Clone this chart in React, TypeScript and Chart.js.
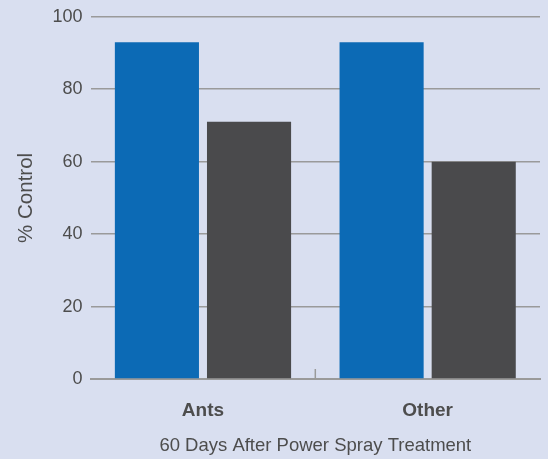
import React, { useEffect, useRef } from "react";
import { Chart, registerables } from "chart.js";

Chart.register(...registerables);

const categories = ["Ants", "Other"];
const seriesA = [93, 93];
const seriesB = [71, 60];
const yTicks = [0, 20, 40, 60, 80, 100];

const midTick = {
  id: "midTick",
  afterDatasetsDraw(chart: any) {
    const x = chart.scales.x;
    const ctx = chart.ctx;
    const px = (x.getPixelForTick(0) + x.getPixelForTick(1)) / 2;
    const b = chart.chartArea.bottom;
    ctx.save();
    ctx.strokeStyle = "#9a9a9a";
    ctx.lineWidth = 1.5;
    ctx.beginPath();
    ctx.moveTo(px, b - 10);
    ctx.lineTo(px, b);
    ctx.stroke();
    ctx.restore();
  },
};

export default function App() {
  const ref = useRef<HTMLCanvasElement>(null);
  useEffect(() => {
    document.body.style.margin = "0";
    document.body.style.background = "#d9dff0";
    const font = "'Liberation Sans', Arial, Helvetica, sans-serif";
    const chart = new Chart(ref.current!, {
      type: "bar",
      data: {
        labels: categories,
        datasets: [
          { data: seriesA, backgroundColor: "#0c6ab5", categoryPercentage: 0.82, barPercentage: 0.913 },
          { data: seriesB, backgroundColor: "#4a4a4c", categoryPercentage: 0.82, barPercentage: 0.913 },
        ],
      },
      options: {
        animation: false,
        responsive: false,
        layout: { padding: { top: 4, right: 8, left: 14, bottom: 2 } },
        plugins: { legend: { display: false }, tooltip: { enabled: false } },
        scales: {
          x: {
            grid: { display: false },
            border: { display: true, color: "#9a9a9a", width: 2 },
            ticks: { color: "#4d4d4d", font: { family: font, size: 19, weight: "bold" }, padding: 12 },
            title: {
              display: true,
              text: "60 Days After Power Spray Treatment",
              color: "#4d4d4d",
              font: { family: font, size: 18.5 },
              padding: { top: 1, bottom: 0 },
            },
          },
          y: {
            min: 0,
            max: 100,
            afterBuildTicks: (s: any) => {
              s.ticks = yTicks.map((v) => ({ value: v }));
            },
            grid: { color: "#9a9a9a", lineWidth: 1.5, drawTicks: false },
            border: { display: false },
            ticks: { color: "#4d4d4d", font: { family: font, size: 18 }, padding: 8 },
            title: {
              display: true,
              text: "% Control",
              color: "#4d4d4d",
              font: { family: font, size: 20.5 },
              padding: { top: 0, bottom: 6 },
            },
          },
        },
      },
      plugins: [midTick],
    });
    return () => chart.destroy();
  }, []);
  return (
    <div style={{ width: 548, height: 459, background: "#d9dff0", overflow: "hidden" }}>
      <canvas ref={ref} width={548} height={461} style={{ display: "block", marginTop: -2 }} />
    </div>
  );
}
